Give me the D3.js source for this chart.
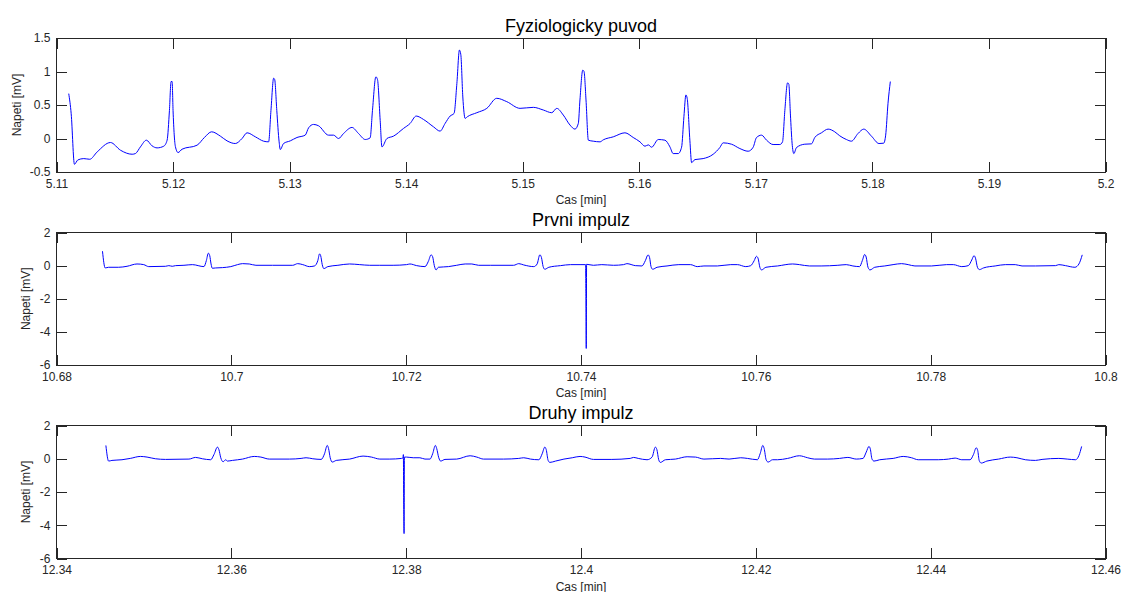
<!DOCTYPE html>
<html>
<head>
<meta charset="utf-8">
<script src="https://cdn.jsdelivr.net/npm/d3@7"></script>
<style>
  html, body { margin: 0; padding: 0; background: #fff; }
  svg { display: block; font-family: "Liberation Sans", Arial, Helvetica, sans-serif; }
</style>
</head>
<body>
<svg id="chart" width="1121" height="592"></svg>
<script>
// ECG segments: physiological rhythm and two stimulated (pacing impulse) recordings
const titles = ["Fyziologicky puvod", "Prvni impulz", "Druhy impulz"];
const xLabel = "Cas [min]";
const yLabel = "Napeti [mV]";

const fyzTime = [5.11105,5.11126,5.11154,5.11183,5.11234,5.11285,5.11349,5.11463,5.11549,5.11649,5.11677,5.1172,5.11771,5.1182,5.11863,5.1192,5.11949,5.11969,5.11983,5.11992,5.12,5.1202,5.12043,5.12077,5.12206,5.12269,5.12331,5.12406,5.12463,5.12534,5.12592,5.12635,5.12706,5.12777,5.1282,5.1284,5.12863,5.12872,5.1289,5.1291,5.1292,5.12948,5.13006,5.13063,5.13134,5.13163,5.13205,5.13248,5.13334,5.13377,5.1342,5.13463,5.13535,5.13591,5.13649,5.13691,5.13711,5.1374,5.13754,5.13777,5.13792,5.13835,5.13891,5.13977,5.14034,5.14086,5.14148,5.14234,5.14291,5.14334,5.14377,5.14411,5.14435,5.14457,5.14469,5.14486,5.14506,5.14525,5.14606,5.14692,5.14777,5.14863,5.14977,5.15091,5.15177,5.15249,5.15292,5.15348,5.15406,5.15448,5.15477,5.15491,5.15515,5.15526,5.15543,5.15563,5.15605,5.15663,5.15691,5.15777,5.15877,5.15948,5.16006,5.16049,5.16077,5.16106,5.16163,5.1622,5.16263,5.16291,5.16334,5.16363,5.16383,5.164,5.16411,5.16434,5.16449,5.16477,5.16548,5.16634,5.16691,5.1672,5.16791,5.16863,5.16934,5.16977,5.17006,5.17049,5.17092,5.17148,5.17206,5.17229,5.17249,5.17272,5.17283,5.17297,5.17311,5.17326,5.17349,5.1742,5.17477,5.17506,5.17563,5.1762,5.17677,5.1772,5.17777,5.1782,5.17877,5.17926,5.17992,5.18057,5.18097,5.18114,5.18134,5.18154];
const fyzVolt = [0.67,0.37,-0.385,-0.32,-0.30,-0.31,-0.20,-0.06,-0.175,-0.235,-0.225,-0.125,-0.025,-0.11,-0.14,-0.115,-0.025,0.42,0.85,0.85,0.42,-0.12,-0.21,-0.16,-0.10,0.015,0.10,0.035,-0.035,-0.075,0.0,0.085,0.025,-0.04,-0.05,0.42,0.90,0.88,0.42,-0.05,-0.165,-0.075,-0.035,0.015,0.05,0.16,0.21,0.19,0.05,0.05,0.0,0.075,0.165,0.075,-0.015,0.01,0.42,0.92,0.88,0.27,-0.125,0.0,0.035,0.15,0.225,0.335,0.285,0.175,0.11,0.225,0.335,0.375,0.82,1.32,1.25,0.62,0.30,0.325,0.385,0.45,0.60,0.55,0.45,0.465,0.425,0.385,0.45,0.35,0.20,0.14,0.225,0.575,1.02,1.0,0.575,-0.025,-0.04,-0.05,-0.02,0.025,0.085,0.015,-0.05,-0.115,-0.095,-0.13,-0.015,-0.025,-0.125,-0.225,-0.225,-0.13,0.325,0.65,0.6,-0.025,-0.36,-0.315,-0.30,-0.235,-0.135,-0.065,-0.085,-0.15,-0.19,-0.13,0.015,0.05,-0.025,-0.09,-0.09,-0.05,0.42,0.83,0.81,0.35,-0.07,-0.225,-0.135,-0.085,-0.08,0.015,0.085,0.14,0.10,0.04,-0.015,-0.04,0.075,0.14,0.035,-0.075,-0.07,0.05,0.525,0.85];

const prvniTime = [10.68526,10.68557,10.68596,10.68711,10.68807,10.68921,10.68998,10.69055,10.69247,10.69285,10.69324,10.69362,10.69458,10.69554,10.69687,10.69714,10.69737,10.69753,10.69768,10.69783,10.69821,10.69898,10.69994,10.70071,10.70128,10.70205,10.70281,10.70472,10.70702,10.70759,10.70817,10.70893,10.70951,10.70989,10.71009,10.71022,10.7104,10.71058,10.71104,10.71219,10.71353,10.71469,10.71583,10.71698,10.71851,10.72004,10.72043,10.7212,10.72215,10.72254,10.72285,10.72302,10.72322,10.72342,10.72368,10.72483,10.72578,10.72675,10.72751,10.72828,10.72962,10.73229,10.73288,10.73345,10.7346,10.73498,10.73529,10.73547,10.73567,10.73586,10.73632,10.73766,10.73881,10.73989,10.74052,10.74056,10.7406,10.74064,10.74142,10.74238,10.74372,10.74487,10.74525,10.74621,10.74697,10.74736,10.74767,10.74784,10.74801,10.7482,10.7487,10.74984,10.75119,10.75253,10.7533,10.75406,10.7556,10.75713,10.75789,10.75885,10.75942,10.75981,10.76007,10.76025,10.76046,10.76065,10.76115,10.76249,10.76421,10.76498,10.76613,10.76747,10.76938,10.77034,10.7711,10.77187,10.77218,10.77245,10.77262,10.77283,10.77306,10.7736,10.77475,10.7757,10.77666,10.77743,10.7782,10.7801,10.78183,10.78259,10.78356,10.78431,10.7847,10.78496,10.78513,10.78535,10.78558,10.78604,10.78738,10.78854,10.78968,10.79045,10.79198,10.79428,10.79466,10.79542,10.7965,10.79696,10.79734];
const prvniVolt = [0.87,-0.14,-0.10,-0.10,-0.04,0.10,0.06,-0.06,-0.04,0.0,-0.04,0.0,0.02,0.06,-0.06,0.30,0.75,0.60,0.10,-0.16,-0.14,-0.12,-0.06,0.06,0.12,0.10,0.02,0.02,0.02,0.12,0.06,-0.06,-0.02,0.30,0.71,0.60,0.06,-0.18,-0.06,0.02,0.10,0.06,0.02,0.02,0.02,0.06,0.10,0.0,-0.06,0.26,0.65,0.55,0.0,-0.26,-0.10,-0.06,0.02,0.10,0.10,0.02,0.02,0.02,0.12,0.04,-0.06,0.10,0.65,0.50,-0.06,-0.22,-0.10,0.0,0.06,0.06,0.06,-1.7,-5.0,0.08,0.02,0.06,0.02,0.06,0.12,0.0,-0.02,0.30,0.65,0.50,-0.06,-0.22,-0.10,-0.02,0.06,0.06,-0.06,-0.02,-0.02,0.06,0.06,-0.06,0.0,0.30,0.56,0.45,-0.10,-0.26,-0.10,-0.02,0.10,0.06,-0.02,-0.02,0.02,0.06,-0.02,-0.06,0.30,0.67,0.52,-0.10,-0.26,-0.10,-0.02,0.06,0.12,0.06,-0.02,-0.02,0.06,0.06,-0.06,0.0,0.34,0.60,0.45,-0.10,-0.24,-0.14,-0.02,0.06,0.06,-0.02,-0.02,0.0,0.06,0.0,-0.10,0.10,0.65];

const druhyTime = [12.34565,12.34596,12.34634,12.34749,12.34844,12.3496,12.35036,12.35131,12.35247,12.35515,12.35591,12.35668,12.35764,12.35802,12.35841,12.35858,12.35879,12.35906,12.35936,12.35955,12.36012,12.36128,12.36262,12.36338,12.36434,12.36664,12.36798,12.36855,12.36932,12.37028,12.37066,12.37097,12.37112,12.37131,12.37154,12.372,12.37353,12.37507,12.37603,12.37699,12.37813,12.37947,12.37964,12.37968,12.37972,12.37976,12.3798,12.38004,12.38081,12.38157,12.38215,12.38273,12.38303,12.38334,12.38349,12.38373,12.38395,12.38444,12.38578,12.38732,12.38808,12.38885,12.39115,12.39288,12.39345,12.39422,12.39518,12.39556,12.39586,12.39602,12.39624,12.39644,12.39709,12.39805,12.399,12.39989,12.40046,12.40142,12.40353,12.40563,12.40602,12.40655,12.40755,12.40813,12.4085,12.40868,12.40889,12.40908,12.40966,12.4108,12.41214,12.4131,12.41406,12.41597,12.41694,12.41827,12.41904,12.42018,12.42049,12.4208,12.42095,12.42118,12.42141,12.42191,12.42249,12.42364,12.42498,12.42593,12.4267,12.42823,12.42958,12.43053,12.43149,12.43226,12.43263,12.43294,12.43309,12.43329,12.43352,12.43417,12.43571,12.43686,12.43781,12.43858,12.44087,12.44203,12.4428,12.44356,12.44451,12.4449,12.44521,12.44538,12.44555,12.44578,12.44643,12.44777,12.44911,12.44987,12.45083,12.45198,12.45274,12.45466,12.45562,12.45658,12.45696,12.45727];
const druhyVolt = [0.80,-0.14,-0.10,-0.06,0.02,0.14,0.10,0.0,-0.04,-0.02,0.08,0.0,-0.06,0.26,0.70,0.55,0.06,-0.18,-0.06,-0.14,-0.10,-0.02,0.14,0.10,-0.02,-0.02,0.02,0.06,0.0,-0.04,0.30,0.80,0.62,0.06,-0.20,-0.10,-0.02,0.16,0.10,-0.02,-0.02,0.02,0.05,0.25,-2.9,-4.5,0.10,0.10,0.06,0.06,-0.02,-0.02,0.30,0.80,0.62,0.06,-0.14,-0.04,-0.02,0.18,0.10,-0.02,-0.02,0.02,0.06,-0.02,-0.06,0.30,0.70,0.55,-0.10,-0.22,-0.14,-0.02,0.06,0.14,0.10,-0.04,-0.04,0.02,0.08,0.02,-0.06,0.10,0.70,0.55,-0.06,-0.22,-0.06,-0.02,0.12,0.10,-0.02,0.02,-0.02,0.06,0.02,-0.06,0.30,0.80,0.62,-0.06,-0.20,-0.06,-0.06,0.02,0.18,0.06,-0.02,-0.02,0.02,0.08,-0.02,0.02,0.40,0.74,0.60,-0.02,-0.14,-0.06,0.02,0.14,0.06,-0.06,-0.06,-0.02,0.04,-0.06,-0.06,0.26,0.66,0.50,-0.10,-0.26,-0.14,-0.02,0.10,0.06,-0.06,-0.10,-0.04,0.02,-0.02,-0.06,0.20,0.74];

// axis limits and tick values
const fyzXTicks = [5.11,5.12,5.13,5.14,5.15,5.16,5.17,5.18,5.19,5.2];
const fyzYTicks = [-0.5,0,0.5,1,1.5];
const prvniXTicks = [10.68,10.7,10.72,10.74,10.76,10.78,10.8];
const druhyXTicks = [12.34,12.36,12.38,12.4,12.42,12.44,12.46];
const impulzYTicks = [-6,-4,-2,0,2];

const panels = [
  { title: titles[0], time: fyzTime, volt: fyzVolt, xTicks: fyzXTicks, yTicks: fyzYTicks, top: 38, bottom: 172 },
  { title: titles[1], time: prvniTime, volt: prvniVolt, xTicks: prvniXTicks, yTicks: impulzYTicks, top: 232.5, bottom: 365 },
  { title: titles[2], time: druhyTime, volt: druhyVolt, xTicks: druhyXTicks, yTicks: impulzYTicks, top: 425.5, bottom: 558.5 }
];

const left = 56.5, right = 1105.5;
const tickLen = 10.5;
const ink = "#262626";
const fmt = d => String(+d.toFixed(4));

const svg = d3.select("#chart");

panels.forEach((p, i) => {
  const x = d3.scaleLinear()
    .domain([p.xTicks[0], p.xTicks[p.xTicks.length - 1]])
    .range([left, right]);
  const y = d3.scaleLinear()
    .domain([p.yTicks[0], p.yTicks[p.yTicks.length - 1]])
    .range([p.bottom, p.top]);

  const g = svg.append("g");

  g.append("clipPath").attr("id", "clip" + i)
    .append("rect")
    .attr("x", left).attr("y", p.top)
    .attr("width", right - left).attr("height", p.bottom - p.top);

  const pts = p.time.map((t, k) => [t, p.volt[k]]);
  const line = d3.line()
    .x(d => x(d[0]))
    .y(d => y(d[1]))
    .curve(d3.curveMonotoneX);

  g.append("path")
    .datum(pts)
    .attr("clip-path", `url(#clip${i})`)
    .attr("fill", "none")
    .attr("stroke", "#0000ff")
    .attr("stroke-width", 1)
    .attr("stroke-linejoin", "round")
    .attr("d", line);

  const styleAxis = sel => {
    sel.select(".domain").remove();
    sel.selectAll(".tick line").attr("stroke", ink).attr("shape-rendering", "crispEdges");
    sel.selectAll("text")
      .attr("fill", ink)
      .style("font-family", "'Liberation Sans', Arial, Helvetica, sans-serif")
      .style("font-size", "12px");
  };

  g.append("g").attr("transform", `translate(0,${p.bottom})`)
    .call(d3.axisBottom(x).tickValues(p.xTicks).tickFormat(fmt).tickSize(-tickLen).tickPadding(7))
    .call(styleAxis);
  g.append("g").attr("transform", `translate(0,${p.top})`)
    .call(d3.axisTop(x).tickValues(p.xTicks).tickFormat("").tickSize(-tickLen))
    .call(styleAxis);
  g.append("g").attr("transform", `translate(${left},0)`)
    .call(d3.axisLeft(y).tickValues(p.yTicks).tickFormat(fmt).tickSize(-tickLen).tickPadding(6))
    .call(styleAxis);
  g.append("g").attr("transform", `translate(${right},0)`)
    .call(d3.axisRight(y).tickValues(p.yTicks).tickFormat("").tickSize(-tickLen))
    .call(styleAxis);

  g.append("rect")
    .attr("x", left).attr("y", p.top)
    .attr("width", right - left).attr("height", p.bottom - p.top)
    .attr("fill", "none")
    .attr("stroke", ink)
    .attr("shape-rendering", "crispEdges");

  const cx = (left + right) / 2;
  g.append("text")
    .attr("x", cx).attr("y", p.top - 6.5)
    .attr("text-anchor", "middle")
    .attr("fill", "#000")
    .style("font-size", "18px")
    .text(p.title);

  g.append("text")
    .attr("x", cx).attr("y", p.bottom + 32)
    .attr("text-anchor", "middle")
    .attr("fill", ink)
    .style("font-size", "12px")
    .text(xLabel);

  // y label sits left of the widest tick label
  const widest = d3.max(p.yTicks, v => fmt(v).length);
  const ylx = i === 0 ? 21 : 30;
  g.append("text")
    .attr("transform", `translate(${ylx},${(p.top + p.bottom) / 2}) rotate(-90)`)
    .attr("text-anchor", "middle")
    .attr("fill", ink)
    .style("font-size", "12px")
    .text(yLabel);
});
</script>
</body>
</html>
